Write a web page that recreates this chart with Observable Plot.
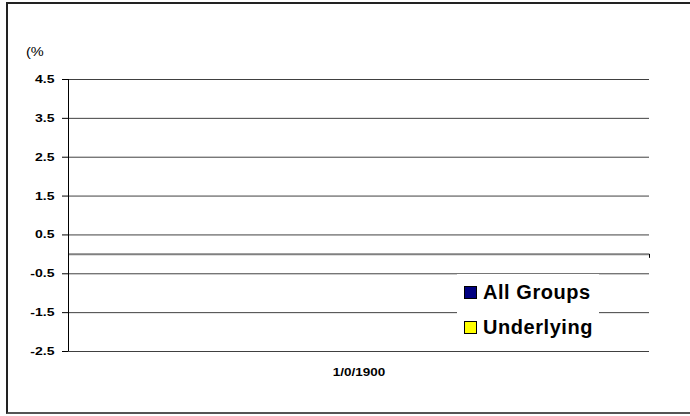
<!DOCTYPE html>
<html><head><meta charset="utf-8">
<script src="https://cdn.jsdelivr.net/npm/d3@7"></script>
<script src="https://cdn.jsdelivr.net/npm/@observablehq/plot@0.6"></script>
<style>
body{margin:0;background:#fff;font-family:"Liberation Sans",Arial,sans-serif;}
#wrap{position:relative;width:690px;height:416px;overflow:hidden;background:#fff;}
#wrap svg{position:absolute;left:0;top:0;}
#frame{position:absolute;left:6px;top:2px;width:740px;height:412px;border:2px solid #222;border-bottom-color:#555;box-sizing:border-box;pointer-events:none;}
#ylab{position:absolute;left:26px;top:45px;font-size:13px;line-height:13px;color:#000;transform-origin:left top;transform:scaleX(1.12);}
#legend{position:absolute;left:457px;top:274px;width:142px;height:76px;background:#fff;}
.item{position:absolute;left:7px;height:20px;display:flex;align-items:center;font-weight:bold;font-size:20px;letter-spacing:0.55px;color:#000;}
.sw{width:11px;height:11px;border:1.5px solid #000;margin-right:6px;}
</style></head>
<body>
<div id="wrap"><div id="frame"></div><div id="ylab"></div><div id="legend"></div></div>
<script>
const categories = ["1/0/1900"];
const seriesNames = ["All Groups", "Underlying"];
const seriesColors = ["#000080", "#FFFF00"];
const allGroups = [null];
const underlying = [null];
const yTicks = [-2.5, -1.5, -0.5, 0.5, 1.5, 2.5, 3.5, 4.5];
const yDomain = [-2.5, 4.5];
const yUnit = "(%";

const seriesValues = [allGroups, underlying];
const bars = [];
categories.forEach((c, i) => seriesNames.forEach((s, k) => {
  const v = seriesValues[k][i];
  if (v != null) bars.push({x1: i + 0.2 + 0.3 * k, x2: i + 0.5 + 0.3 * k, value: v, series: s});
}));
const bounds = d3.range(categories.length + 1);

const plot = Plot.plot({
  width: 690, height: 416,
  marginLeft: 68, marginRight: 41, marginTop: 79, marginBottom: 65,
  style: {fontFamily: "'Liberation Sans', Arial, sans-serif", background: "transparent", color: "#000"},
  x: {domain: [0, categories.length]},
  y: {domain: yDomain},
  color: {domain: seriesNames, range: seriesColors},
  marks: [
    Plot.ruleY(yTicks, {stroke: "#404040", strokeWidth: 1}),
    Plot.rectY(bars, {x1: "x1", x2: "x2", y: "value", fill: "series", stroke: "#000"}),
    Plot.ruleY([0], {stroke: "#808080", strokeWidth: 2}),
    Plot.ruleX(bounds, {y1: 0, y2: 0, insetBottom: -4, stroke: "#000"}),
    Plot.ruleX([0], {stroke: "#000", strokeWidth: 1}),
    Plot.axisY({ticks: yTicks, tickFormat: d => d.toFixed(1), tickSize: 6, tickPadding: 8,
      fontSize: 10.8, fontWeight: "bold", label: null, stroke: "#000"}),
    Plot.axisX({ticks: categories.map((c, i) => i + 0.5), tickFormat: v => categories[Math.floor(v)],
      tickSize: 0, tickPadding: 16, fontSize: 11.5, fontWeight: "bold", label: null})
  ]
});
const wrap = document.getElementById("wrap");
wrap.insertBefore(plot, wrap.firstChild);

function stretch(sel, k) {
  plot.querySelectorAll(sel).forEach(t => {
    const w = t.getComputedTextLength();
    t.setAttribute("textLength", (w * k).toFixed(1));
    t.setAttribute("lengthAdjust", "spacingAndGlyphs");
  });
}
stretch('g[aria-label="y-axis tick label"] text', 1.3);
stretch('g[aria-label="x-axis tick label"] text', 1.17);

document.getElementById("ylab").textContent = yUnit;
const legend = document.getElementById("legend");
seriesNames.forEach((s, k) => {
  const it = document.createElement("div");
  it.className = "item";
  it.style.top = (8 + 35 * k) + "px";
  const sw = document.createElement("span");
  sw.className = "sw";
  sw.style.background = seriesColors[k];
  const tx = document.createElement("span");
  tx.textContent = s;
  it.appendChild(sw); it.appendChild(tx);
  legend.appendChild(it);
});
</script>
</body></html>
